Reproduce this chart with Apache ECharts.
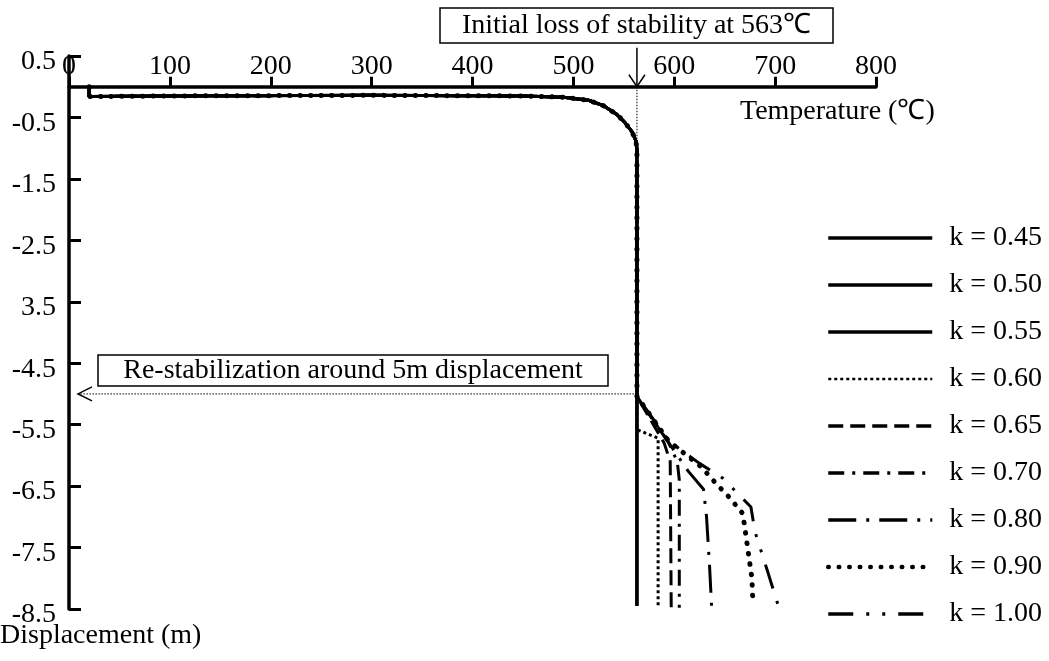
<!DOCTYPE html>
<html><head><meta charset="utf-8">
<script src="https://cdn.jsdelivr.net/npm/echarts@6/dist/echarts.min.js"></script>
<style>html,body{margin:0;padding:0;background:#fff}#c{width:1049px;height:661px}</style>
</head><body><div id="c"></div>
<script>
// ---------- data ----------
const xTickValues = [0, 100, 200, 300, 400, 500, 600, 700, 800];
const yTickValues = [0.5, -0.5, -1.5, -2.5, -3.5, -4.5, -5.5, -6.5, -7.5, -8.5];
const yTickLabels = ['0.5', '-0.5', '-1.5', '-2.5', '3.5', '-4.5', '-5.5', '-6.5', '-7.5', '-8.5'];
const kLabels = ['k = 0.45', 'k = 0.50', 'k = 0.55', 'k = 0.60', 'k = 0.65', 'k = 0.70', 'k = 0.80', 'k = 0.90', 'k = 1.00'];

// common path (temperature, displacement) up to re-stabilisation
const trunk = [[20, 0], [20, -0.16], [100, -0.15], [300, -0.14], [450, -0.15], [490, -0.17], [515, -0.22],
  [530, -0.31], [543, -0.45], [551, -0.58], [558, -0.73], [562, -0.88], [563, -1.02], [563, -5.04]];
// branches after re-stabilisation
const tail045 = [[563, -8.45]];
const tail050 = [[563, -8.45]];
const tail055 = [[563, -8.45]];
const tail060 = [[563, -5.58], [584, -5.72], [584, -8.45]];
const tail065 = [[590, -5.8], [596, -6.1], [597, -8.47]];
const tail070 = [[594, -5.78], [603, -6.1], [605, -6.4], [605, -8.48]];
const tail080 = [[614, -6.26], [629, -6.55], [632, -7.0], [635, -7.8], [637, -8.45]];
const tail090 = [[594, -5.76], [627, -6.19], [641, -6.45], [655, -6.69], [668, -6.95], [671, -7.3], [674, -7.65], [677, -8.0], [678, -8.42]];
const tail100 = [[594, -5.75], [604, -5.88], [625, -6.13], [648, -6.37], [676, -6.84], [680, -7.24], [692, -7.86], [703, -8.44]];
const tails = [tail045, tail050, tail055, tail060, tail065, tail070, tail080, tail090, tail100];

const stabilityTemp = 563;
const restabDisp = -5.0;

// ---------- styles ----------
const FONT = '"Liberation Serif","Times New Roman",serif';
const FS = 28;
const lineStyles = [
  {width: 3, type: 'solid'},
  {width: 3, type: 'solid'},
  {width: 3, type: 'solid'},
  {width: 3, type: [3, 3]},
  {width: 3, type: [15, 7]},
  {width: 3, type: [16, 8, 3, 8]},
  {width: 3, type: [28, 10, 3, 10]},
  {width: 5, type: [0.5, 10], cap: 'round'},
  {width: 3, type: [25, 13, 3, 13, 3, 13]}
];
const legendWidths = [3.5, 3.5, 3.5, 2.5, 3.5, 3.5, 3.5, 4.5, 3.5];

const chart = echarts.init(document.getElementById('c'), null, {renderer: 'canvas'});

const series = kLabels.map((name, i) => ({
  name: name,
  type: 'line',
  data: trunk.concat(tails[i]),
  symbol: 'none',
  showSymbol: false,
  smooth: false,
  z: 10 - i,
  lineStyle: Object.assign({color: '#000'}, lineStyles[i]),
  itemStyle: {color: '#000'}
}));

chart.setOption({
  animation: false,
  backgroundColor: '#fff',
  textStyle: {fontFamily: FONT, color: '#000'},
  grid: {left: 69, right: 173, top: 56, bottom: 52, containLabel: false},
  xAxis: {
    type: 'value', min: 0, max: 800, interval: 100, position: 'top',
    axisLine: {onZero: true, lineStyle: {color: '#000', width: 3.5}},
    axisTick: {show: true, inside: false, length: 10, lineStyle: {color: '#000', width: 3}},
    axisLabel: {margin: -25, fontSize: FS, fontFamily: FONT, color: '#000'},
    splitLine: {show: false}
  },
  yAxis: {
    type: 'value', min: -8.5, max: 0.5, position: 'left',
    axisLine: {onZero: true, lineStyle: {color: '#000', width: 3.5}},
    axisTick: {show: true, inside: true, length: 12, customValues: yTickValues, lineStyle: {color: '#000', width: 3}},
    axisLabel: {
      margin: 13, fontSize: FS, fontFamily: FONT, color: '#000', customValues: yTickValues,
      verticalAlign: 'top', lineHeight: 12,
      formatter: function (v) {
        for (let i = 0; i < yTickValues.length; i++) if (Math.abs(yTickValues[i] - v) < 1e-6) return yTickLabels[i];
        return '';
      }
    },
    splitLine: {show: false}
  },
  legend: {
    data: kLabels.map((n, i) => ({name: n, lineStyle: {width: legendWidths[i]}})),
    orient: 'vertical', left: 826, top: 224, padding: 0,
    itemWidth: 104, itemHeight: 14, itemGap: 19,
    lineStyle: {width: 3.5},
    itemStyle: {opacity: 0, borderWidth: 0},
    textStyle: {fontSize: FS, fontFamily: FONT, color: '#000', padding: [0, 0, 0, 12]},
    selectedMode: false
  },
  series: series
});

// ---------- annotations (positions derived from axes) ----------
function px(v) { return chart.convertToPixel({gridIndex: 0}, v); }
const pTop = px([stabilityTemp, 0]);
const pCurve = px([stabilityTemp, -1.02]);
const pRe = px([stabilityTemp, restabDisp]);
const pAxis = px([0, restabDisp]);
const pEnd = px([800, 0]);
const pBottom = px([0, -8.5]);
const blk = '#000';
const f = FS + 'px ' + FONT;

chart.setOption({
  graphic: [
    // box 1
    {type: 'rect', shape: {x: 440, y: 8, width: 393, height: 35}, style: {fill: '#fff', stroke: blk, lineWidth: 1.5}, z: 100},
    {type: 'text', x: 636.5, y: 26, style: {text: 'Initial loss of stability at 563\u2103', font: f, fill: blk, align: 'center', verticalAlign: 'middle'}, z: 101},
    // arrow down
    {type: 'line', shape: {x1: pTop[0], y1: pTop[1] - 39, x2: pTop[0], y2: pTop[1]}, style: {stroke: blk, lineWidth: 1.5}, z: 100},
    {type: 'polyline', shape: {points: [[pTop[0] - 8, pTop[1] - 12], [pTop[0], pTop[1]], [pTop[0] + 8, pTop[1] - 12]]}, style: {stroke: blk, lineWidth: 1.5, fill: null}, z: 100},
    {type: 'line', shape: {x1: pTop[0], y1: pTop[1] + 3, x2: pCurve[0], y2: pCurve[1]}, style: {stroke: blk, lineWidth: 1, lineDash: [1.5, 1.5]}, z: 100},
    // box 2
    {type: 'rect', shape: {x: 98, y: 355, width: 510, height: 31}, style: {fill: '#fff', stroke: blk, lineWidth: 1.5}, z: 100},
    {type: 'text', x: 353, y: 371, style: {text: 'Re-stabilization around 5m displacement', font: f, fill: blk, align: 'center', verticalAlign: 'middle'}, z: 101},
    // arrow left
    {type: 'line', shape: {x1: pRe[0], y1: pRe[1], x2: pAxis[0] + 10, y2: pAxis[1]}, style: {stroke: blk, lineWidth: 1, lineDash: [1.5, 1.5]}, z: 100},
    {type: 'polyline', shape: {points: [[pAxis[0] + 23, pAxis[1] - 7], [pAxis[0] + 9, pAxis[1]], [pAxis[0] + 23, pAxis[1] + 7]]}, style: {stroke: blk, lineWidth: 1.5, fill: null}, z: 100},
    // axis names
    {type: 'text', x: pEnd[0] - 136, y: pEnd[1] + 25, style: {text: 'Temperature (\u2103)', font: f, fill: blk, align: 'left', verticalAlign: 'middle'}, z: 100},
    {type: 'text', x: 0, y: pBottom[1] + 27, style: {text: 'Displacement (m)', font: f, fill: blk, align: 'left', verticalAlign: 'middle'}, z: 100}
  ]
});
</script>
</body></html>
